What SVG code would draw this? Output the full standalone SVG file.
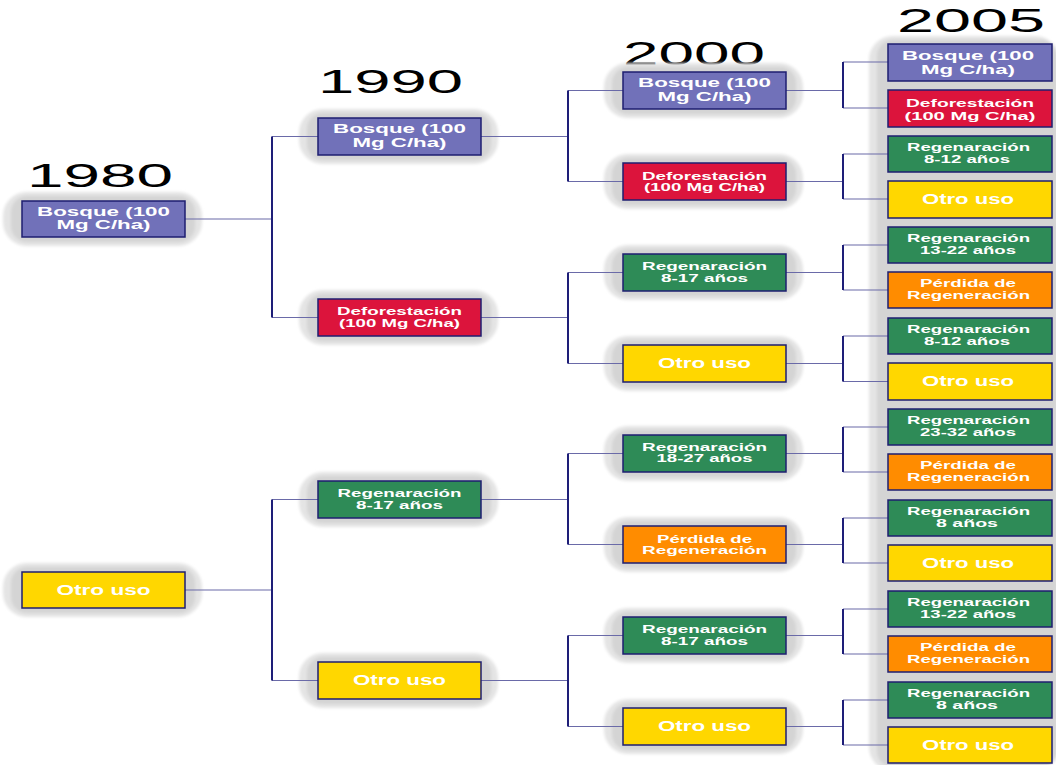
<svg xmlns="http://www.w3.org/2000/svg" width="1056" height="765" viewBox="0 0 1056 765">
<defs>
<filter id="blur" x="-20%" y="-50%" width="140%" height="200%"><feGaussianBlur stdDeviation="1.5"/></filter>
<style>
.bg{fill:#ffffff}
.ho{fill:#e4e4e4}
.hi{fill:#d4d4d4}
.box{stroke:#1e1e70;stroke-width:1.5}
.bos{fill:#7171b9}
.def{fill:#dc143c}
.reg{fill:#2e8b57}
.otr{fill:#ffd700}
.per{fill:#ff8c00}
.t{fill:#ffffff;font-family:"Liberation Sans",Arial,sans-serif;font-weight:bold;text-anchor:middle}
.yr{fill:#000000;font-family:"Liberation Sans",Arial,sans-serif;font-size:34px}
.h{stroke:#6a6aa8;stroke-width:1.2;fill:none}
.v{stroke:#1e1e78;stroke-width:2;fill:none}
</style>
</defs>
<rect class="bg" x="0" y="0" width="1056" height="765"/>

<g id="years">
<text class="yr" x="27" y="187" textLength="146" lengthAdjust="spacingAndGlyphs">1980</text>
<text class="yr" x="318" y="93" textLength="145" lengthAdjust="spacingAndGlyphs">1990</text>
<text class="yr" x="623" y="65" textLength="142" lengthAdjust="spacingAndGlyphs">2000</text>
<text class="yr" x="897" y="32" textLength="148" lengthAdjust="spacingAndGlyphs">2005</text>
</g>

<g id="halos" filter="url(#blur)">
<!-- col1 -->
<rect class="ho" x="3" y="192" width="199" height="54" rx="24"/><rect class="hi" x="11" y="196" width="184" height="46" rx="16"/>
<rect class="ho" x="3" y="563" width="199" height="54" rx="24"/><rect class="hi" x="11" y="567" width="184" height="46" rx="16"/>
<!-- col2 -->
<rect class="ho" x="299" y="109" width="199" height="55" rx="24"/><rect class="hi" x="307" y="113" width="184" height="47" rx="16"/>
<rect class="ho" x="299" y="290" width="199" height="55" rx="24"/><rect class="hi" x="307" y="294" width="184" height="47" rx="16"/>
<rect class="ho" x="299" y="472" width="199" height="55" rx="24"/><rect class="hi" x="307" y="476" width="184" height="47" rx="16"/>
<rect class="ho" x="299" y="653" width="199" height="55" rx="24"/><rect class="hi" x="307" y="657" width="184" height="47" rx="16"/>
<!-- col3 -->
<rect class="ho" x="604" y="63" width="199" height="55" rx="24"/><rect class="hi" x="612" y="67" width="184" height="47" rx="16"/>
<rect class="ho" x="604" y="154" width="199" height="55" rx="24"/><rect class="hi" x="612" y="158" width="184" height="47" rx="16"/>
<rect class="ho" x="604" y="245" width="199" height="55" rx="24"/><rect class="hi" x="612" y="249" width="184" height="47" rx="16"/>
<rect class="ho" x="604" y="336" width="199" height="55" rx="24"/><rect class="hi" x="612" y="340" width="184" height="47" rx="16"/>
<rect class="ho" x="604" y="426" width="199" height="55" rx="24"/><rect class="hi" x="612" y="430" width="184" height="47" rx="16"/>
<rect class="ho" x="604" y="517" width="199" height="55" rx="24"/><rect class="hi" x="612" y="521" width="184" height="47" rx="16"/>
<rect class="ho" x="604" y="608" width="199" height="55" rx="24"/><rect class="hi" x="612" y="612" width="184" height="47" rx="16"/>
<rect class="ho" x="604" y="699" width="199" height="55" rx="24"/><rect class="hi" x="612" y="703" width="184" height="47" rx="16"/>
<!-- col4 -->
<rect class="ho" x="869" y="36" width="190" height="735" rx="24"/><rect class="hi" x="877" y="40" width="180" height="727" rx="16"/>
</g>

<g id="connectors">
<path class="h" d="M185 219H272M272 136.5H318M272 317.5H318M185 590H272M272 499.5H318M272 680.5H318"/>
<path class="v" d="M272 136.5V317.5M272 499.5V680.5"/>
<path class="h" d="M481 136.5H568M568 90.5H623M568 181.5H623M481 317.5H568M568 272.5H623M568 363.5H623M481 499.5H568M568 453.5H623M568 544.5H623M481 680.5H568M568 635.5H623M568 726.5H623"/>
<path class="v" d="M568 90.5V181.5M568 272.5V363.5M568 453.5V544.5M568 635.5V726.5"/>
<path class="h" d="M786 90.5H843M843 62H888M843 108H888M786 181.5H843M843 154H888M843 199H888M786 272.5H843M843 245H888M843 290H888M786 363.5H843M843 336H888M843 381.5H888M786 453.5H843M843 427H888M843 472H888M786 544.5H843M843 518H888M843 563H888M786 635.5H843M843 609H888M843 654H888M786 726.5H843M843 700H888M843 745H888"/>
<path class="v" d="M843 62V108M843 154V199M843 245V290M843 336V381.5M843 427V472M843 518V563M843 609V654M843 700V745"/>
</g>

<!-- column 1980 -->
<g id="n1980-bosque"><rect class="box bos" x="22" y="201" width="163" height="36"/>
<text class="t" font-size="13" x="103.5" y="215.5" textLength="133" lengthAdjust="spacingAndGlyphs">Bosque (100</text>
<text class="t" font-size="13" x="103.5" y="229" textLength="94" lengthAdjust="spacingAndGlyphs">Mg C/ha)</text></g>
<g id="n1980-otro"><rect class="box otr" x="22" y="572" width="163" height="36"/>
<text class="t" font-size="14" x="103.5" y="594.5" textLength="94" lengthAdjust="spacingAndGlyphs">Otro uso</text></g>

<!-- column 1990 -->
<g id="n1990-bosque"><rect class="box bos" x="318" y="118" width="163" height="37"/>
<text class="t" font-size="13" x="399.5" y="133" textLength="133" lengthAdjust="spacingAndGlyphs">Bosque (100</text>
<text class="t" font-size="13" x="399.5" y="146.5" textLength="94" lengthAdjust="spacingAndGlyphs">Mg C/ha)</text></g>
<g id="n1990-defor"><rect class="box def" x="318" y="299" width="163" height="37"/>
<text class="t" font-size="11" x="399.5" y="315" textLength="125" lengthAdjust="spacingAndGlyphs">Deforestación</text>
<text class="t" font-size="11" x="399.5" y="326.5" textLength="121" lengthAdjust="spacingAndGlyphs">(100 Mg C/ha)</text></g>
<g id="n1990-regen"><rect class="box reg" x="318" y="481" width="163" height="37"/>
<text class="t" font-size="11" x="399.5" y="497" textLength="124" lengthAdjust="spacingAndGlyphs">Regenaración</text>
<text class="t" font-size="11" x="399.5" y="508.5" textLength="87" lengthAdjust="spacingAndGlyphs">8-17 años</text></g>
<g id="n1990-otro"><rect class="box otr" x="318" y="662" width="163" height="37"/>
<text class="t" font-size="14" x="399.5" y="685" textLength="93" lengthAdjust="spacingAndGlyphs">Otro uso</text></g>

<!-- column 2000 -->
<g id="n2000-bosque"><rect class="box bos" x="623" y="72" width="163" height="37"/>
<text class="t" font-size="13" x="704.5" y="87" textLength="133" lengthAdjust="spacingAndGlyphs">Bosque (100</text>
<text class="t" font-size="13" x="704.5" y="100.5" textLength="94" lengthAdjust="spacingAndGlyphs">Mg C/ha)</text></g>
<g id="n2000-defor"><rect class="box def" x="623" y="163" width="163" height="37"/>
<text class="t" font-size="11" x="704.5" y="179.5" textLength="125" lengthAdjust="spacingAndGlyphs">Deforestación</text>
<text class="t" font-size="11" x="704.5" y="191" textLength="121" lengthAdjust="spacingAndGlyphs">(100 Mg C/ha)</text></g>
<g id="n2000-regen1"><rect class="box reg" x="623" y="254" width="163" height="37"/>
<text class="t" font-size="11" x="704.5" y="270" textLength="125" lengthAdjust="spacingAndGlyphs">Regenaración</text>
<text class="t" font-size="11" x="704.5" y="281.5" textLength="87" lengthAdjust="spacingAndGlyphs">8-17 años</text></g>
<g id="n2000-otro1"><rect class="box otr" x="623" y="345" width="163" height="37"/>
<text class="t" font-size="14" x="704.5" y="368" textLength="93" lengthAdjust="spacingAndGlyphs">Otro uso</text></g>
<g id="n2000-regen2"><rect class="box reg" x="623" y="435" width="163" height="37"/>
<text class="t" font-size="11" x="704.5" y="451" textLength="125" lengthAdjust="spacingAndGlyphs">Regenaración</text>
<text class="t" font-size="11" x="704.5" y="462" textLength="96" lengthAdjust="spacingAndGlyphs">18-27 años</text></g>
<g id="n2000-perdida"><rect class="box per" x="623" y="526" width="163" height="37"/>
<text class="t" font-size="11" x="704.5" y="542.5" textLength="95" lengthAdjust="spacingAndGlyphs">Pérdida de</text>
<text class="t" font-size="11" x="704.5" y="553.5" textLength="125" lengthAdjust="spacingAndGlyphs">Regeneración</text></g>
<g id="n2000-regen3"><rect class="box reg" x="623" y="617" width="163" height="37"/>
<text class="t" font-size="11" x="704.5" y="633" textLength="125" lengthAdjust="spacingAndGlyphs">Regenaración</text>
<text class="t" font-size="11" x="704.5" y="644.5" textLength="87" lengthAdjust="spacingAndGlyphs">8-17 años</text></g>
<g id="n2000-otro2"><rect class="box otr" x="623" y="708" width="163" height="37"/>
<text class="t" font-size="14" x="704.5" y="731" textLength="93" lengthAdjust="spacingAndGlyphs">Otro uso</text></g>

<!-- column 2005 -->
<g id="n2005-1"><rect class="box bos" x="888" y="44" width="164" height="37"/>
<text class="t" font-size="12" x="968" y="59.5" textLength="132" lengthAdjust="spacingAndGlyphs">Bosque (100</text>
<text class="t" font-size="12" x="968" y="74" textLength="94" lengthAdjust="spacingAndGlyphs">Mg C/ha)</text></g>
<g id="n2005-2"><rect class="box def" x="888" y="90" width="164" height="37"/>
<text class="t" font-size="11" x="970" y="106.5" textLength="128" lengthAdjust="spacingAndGlyphs">Deforestación</text>
<text class="t" font-size="11" x="970" y="119.5" textLength="131" lengthAdjust="spacingAndGlyphs">(100 Mg C/ha)</text></g>
<g id="n2005-3"><rect class="box reg" x="888" y="136" width="164" height="36"/>
<text class="t" font-size="11" x="968.5" y="150.5" textLength="123" lengthAdjust="spacingAndGlyphs">Regenaración</text>
<text class="t" font-size="11" x="967" y="163" textLength="86" lengthAdjust="spacingAndGlyphs">8-12 años</text></g>
<g id="n2005-4"><rect class="box otr" x="888" y="181" width="164" height="37"/>
<text class="t" font-size="14" x="968" y="203.5" textLength="92" lengthAdjust="spacingAndGlyphs">Otro uso</text></g>
<g id="n2005-5"><rect class="box reg" x="888" y="227" width="164" height="36"/>
<text class="t" font-size="11" x="968.5" y="241.5" textLength="123" lengthAdjust="spacingAndGlyphs">Regenaración</text>
<text class="t" font-size="11" x="968" y="254" textLength="96" lengthAdjust="spacingAndGlyphs">13-22 años</text></g>
<g id="n2005-6"><rect class="box per" x="888" y="272" width="164" height="36"/>
<text class="t" font-size="11" x="968" y="286.5" textLength="96" lengthAdjust="spacingAndGlyphs">Pérdida de</text>
<text class="t" font-size="11" x="968.5" y="299" textLength="123" lengthAdjust="spacingAndGlyphs">Regeneración</text></g>
<g id="n2005-7"><rect class="box reg" x="888" y="318" width="164" height="36"/>
<text class="t" font-size="11" x="968.5" y="332.5" textLength="123" lengthAdjust="spacingAndGlyphs">Regenaración</text>
<text class="t" font-size="11" x="967" y="345" textLength="86" lengthAdjust="spacingAndGlyphs">8-12 años</text></g>
<g id="n2005-8"><rect class="box otr" x="888" y="363" width="164" height="37"/>
<text class="t" font-size="14" x="968" y="386" textLength="92" lengthAdjust="spacingAndGlyphs">Otro uso</text></g>
<g id="n2005-9"><rect class="box reg" x="888" y="409" width="164" height="36"/>
<text class="t" font-size="11" x="968.5" y="423.5" textLength="123" lengthAdjust="spacingAndGlyphs">Regenaración</text>
<text class="t" font-size="11" x="968" y="436" textLength="96" lengthAdjust="spacingAndGlyphs">23-32 años</text></g>
<g id="n2005-10"><rect class="box per" x="888" y="454" width="164" height="36"/>
<text class="t" font-size="11" x="968" y="468.5" textLength="96" lengthAdjust="spacingAndGlyphs">Pérdida de</text>
<text class="t" font-size="11" x="968.5" y="481" textLength="123" lengthAdjust="spacingAndGlyphs">Regeneración</text></g>
<g id="n2005-11"><rect class="box reg" x="888" y="500" width="164" height="36"/>
<text class="t" font-size="11" x="968.5" y="514.5" textLength="123" lengthAdjust="spacingAndGlyphs">Regenaración</text>
<text class="t" font-size="11" x="967" y="527" textLength="62" lengthAdjust="spacingAndGlyphs">8 años</text></g>
<g id="n2005-12"><rect class="box otr" x="888" y="545" width="164" height="36"/>
<text class="t" font-size="14" x="968" y="567.5" textLength="92" lengthAdjust="spacingAndGlyphs">Otro uso</text></g>
<g id="n2005-13"><rect class="box reg" x="888" y="591" width="164" height="36"/>
<text class="t" font-size="11" x="968.5" y="605.5" textLength="123" lengthAdjust="spacingAndGlyphs">Regenaración</text>
<text class="t" font-size="11" x="968" y="618" textLength="96" lengthAdjust="spacingAndGlyphs">13-22 años</text></g>
<g id="n2005-14"><rect class="box per" x="888" y="636" width="164" height="36"/>
<text class="t" font-size="11" x="968" y="650.5" textLength="96" lengthAdjust="spacingAndGlyphs">Pérdida de</text>
<text class="t" font-size="11" x="968.5" y="663" textLength="123" lengthAdjust="spacingAndGlyphs">Regeneración</text></g>
<g id="n2005-15"><rect class="box reg" x="888" y="682" width="164" height="36"/>
<text class="t" font-size="11" x="968.5" y="696.5" textLength="123" lengthAdjust="spacingAndGlyphs">Regenaración</text>
<text class="t" font-size="11" x="967" y="709" textLength="62" lengthAdjust="spacingAndGlyphs">8 años</text></g>
<g id="n2005-16"><rect class="box otr" x="888" y="727" width="164" height="36"/>
<text class="t" font-size="14" x="968" y="749.5" textLength="92" lengthAdjust="spacingAndGlyphs">Otro uso</text></g>
</svg>
